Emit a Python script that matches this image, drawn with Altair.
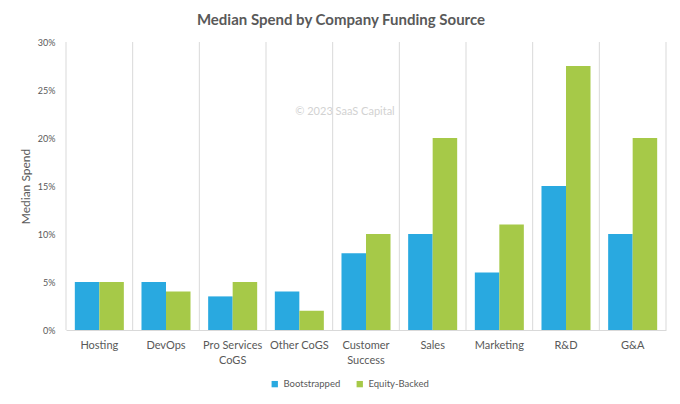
import altair as alt
import pandas as pd

# Values (percent of revenue)
categories = ["Hosting", "DevOps", "Pro Services CoGS", "Other CoGS", "Customer Success",
              "Sales", "Marketing", "R&D", "G&A"]
bootstrapped = [5, 5, 3.5, 4, 8, 10, 6, 15, 10]
equity_backed = [5, 4, 5, 2, 10, 20, 11, 27.5, 20]
series = ["Bootstrapped", "Equity-Backed"]
colors = ["#29A9E0", "#A6C948"]

rows = []
for cat, b, e in zip(categories, bootstrapped, equity_backed):
    rows.append({"category": cat, "source": series[0], "value": b / 100})
    rows.append({"category": cat, "source": series[1], "value": e / 100})
df = pd.DataFrame(rows)
cats_df = pd.DataFrame({"category": categories})

FONT = "Lato"
GRAY = "#595959"
W, H = 600, 288

label_expr = (
    "datum.label == 'Pro Services CoGS' ? ['Pro Services', 'CoGS'] : "
    "datum.label == 'Customer Success' ? ['Customer', 'Success'] : datum.label"
)

x_scale = alt.Scale(domain=categories, paddingInner=0, paddingOuter=0)

bars = alt.Chart(df).mark_bar().encode(
    x=alt.X("category:N", sort=categories, scale=x_scale,
            axis=alt.Axis(title=None, labelAngle=0, labelExpr=label_expr, labelFontSize=11,
                          labelColor=GRAY, labelPadding=9, ticks=False, domainColor="#D9D9D9",
                          labelLineHeight=15, labelAlign="center")),
    xOffset=alt.XOffset("source:N", sort=series,
                        scale=alt.Scale(paddingInner=0, paddingOuter=0.36)),
    y=alt.Y("value:Q", scale=alt.Scale(domain=[0, 0.3], nice=False),
            axis=alt.Axis(format=".0%", values=[0, 0.05, 0.1, 0.15, 0.2, 0.25, 0.3],
                          title="Median Spend", grid=False, domain=False, ticks=False,
                          labelFontSize=9, labelColor=GRAY, labelPadding=11,
                          titleFontSize=12, titleFontWeight="normal", titleColor=GRAY,
                          titleX=-34, titleY=H / 2)),
    color=alt.Color("source:N", sort=series,
                    scale=alt.Scale(domain=series, range=colors),
                    legend=alt.Legend(title=None, orient="none", direction="horizontal",
                                      legendX=204, legendY=337, symbolType="square",
                                      symbolSize=40, labelFontSize=9.5, labelColor=GRAY,
                                      columnPadding=14, labelOffset=4)),
)

grid = alt.Chart(cats_df).mark_rule(color="#D9D9D9", strokeWidth=1).encode(
    x=alt.X("category:N", sort=categories, bandPosition=0, axis=None),
    y=alt.datum(0),
    y2=alt.datum(0.3),
)

grid_end = alt.Chart(cats_df).transform_filter(
    alt.datum.category == categories[-1]
).mark_rule(color="#D9D9D9", strokeWidth=1).encode(
    x=alt.X("category:N", sort=categories, bandPosition=1, axis=None),
    y=alt.datum(0),
    y2=alt.datum(0.3),
)

watermark = alt.Chart(pd.DataFrame({"t": ["\u00a9 2023 SaaS Capital"]})).mark_text(
    font=FONT, fontSize=11, color="#D2D2D2", align="center", baseline="middle"
).encode(text="t:N", x=alt.value(279), y=alt.value(70))

chart = alt.layer(grid, grid_end, bars, watermark).resolve_axis(
    x="independent"
).properties(
    width=W,
    height=H,
    autosize=alt.AutoSizeParams(type="none"),
    padding={"left": 58, "top": 34, "right": 6, "bottom": 66},
    title=alt.Title("Median Spend by Company Funding Source", fontSize=15, fontWeight="bold",
                    color=GRAY, font=FONT, anchor="middle", dx=-25, offset=10),
).configure(font=FONT).configure_view(stroke=None)

chart.save("out.html", embed_options={"renderer": "svg", "actions": False})
